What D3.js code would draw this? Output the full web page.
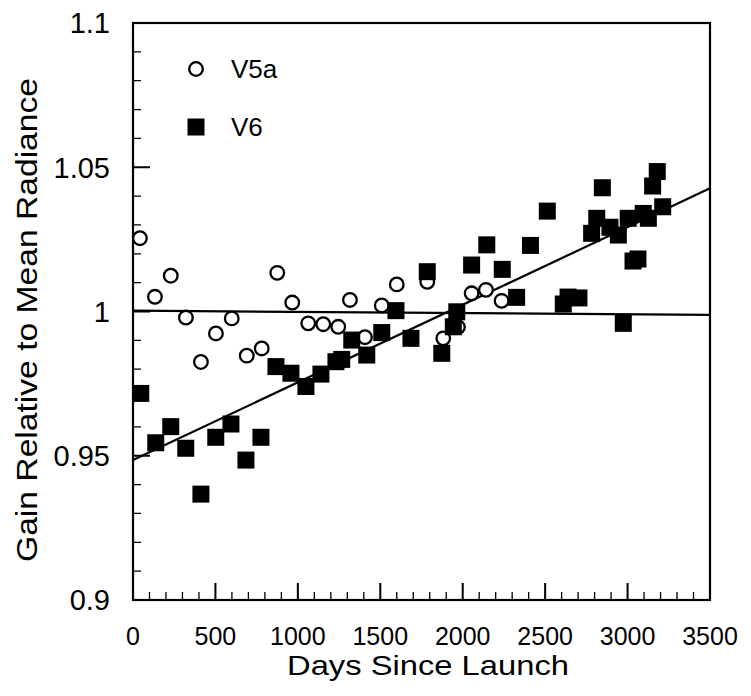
<!DOCTYPE html>
<html>
<head>
<meta charset="utf-8">
<script src="https://cdn.jsdelivr.net/npm/d3@7"></script>
<style>
  body { margin: 0; background: #fff; }
  text { font-family: "Liberation Sans", Arial, Helvetica, sans-serif; fill: #000; }
</style>
</head>
<body>
<div id="chart"></div>
<script>
// V5a (open circles)
const v5aDays = [42, 133, 229, 321, 412, 503, 599, 690, 781, 875, 966, 1063, 1154, 1245, 1316, 1407, 1509, 1600, 1785, 1882, 1971, 2054, 2141, 2236]
const v5aGain = [1.0254, 1.0051, 1.0124, 0.9979, 0.9825, 0.9924, 0.9976, 0.9847, 0.9872, 1.0134, 1.0031, 0.9959, 0.9956, 0.9947, 1.0040, 0.9911, 1.0021, 1.0094, 1.0103, 0.9907, 0.9946, 1.0063, 1.0075, 1.0037]

// V6 (filled squares)
const v6Days = [47, 138, 229, 320, 412, 502, 594, 685, 776, 867, 958, 1049, 1140, 1231, 1266, 1327, 1418, 1509, 1595, 1686,
    1785, 1873, 1943, 1964, 2054, 2146, 2240, 2327, 2411, 2513, 2610, 2639, 2705, 2782, 2813, 2847, 2893, 2944, 2974, 3004,
    3033, 3063, 3095, 3126, 3152, 3180, 3213]
const v6Gain = [0.9716, 0.9545, 0.9601, 0.9526, 0.9367, 0.9564, 0.9610, 0.9485, 0.9564, 0.9809, 0.9786, 0.9740, 0.9783, 0.9826, 0.9834, 0.9901, 0.9849, 0.9927, 1.0003, 0.9907,
    1.0138, 0.9855, 0.9947, 0.9999, 1.0161, 1.0231, 1.0146, 1.0049, 1.0229, 1.0348, 1.0026, 1.0050, 1.0047, 1.0271, 1.0323, 1.0429, 1.0292, 1.0265, 0.9959, 1.0323,
    1.0175, 1.0182, 1.0340, 1.0323, 1.0435, 1.0485, 1.0363]

// fitted trend lines, value at day 0 and day 3500
const fitDays = [0, 3500]
const v5aFit = [1.0003, 0.9988]
const v6Fit = [0.9485, 1.0427]

const xMajor = [0, 500, 1000, 1500, 2000, 2500, 3000, 3500]
const xMinor = d3.range(0, 3501, 100)
const yMajor = [0.9, 0.95, 1, 1.05, 1.1]
const yMinor = d3.range(90, 111).map(d => d / 100)

const width = 751, height = 696
const margin = {top: 23, right: 41, bottom: 96, left: 133}
const w = width - margin.left - margin.right
const h = height - margin.top - margin.bottom

let svg = d3.select("#chart")
    .append("svg")
    .attr("width", width)
    .attr("height", height)

let g = svg.append("g")
    .attr("transform", `translate(${margin.left}, ${margin.top})`)

let x = d3.scaleLinear().domain([0, 3500]).range([0, w])
let y = d3.scaleLinear().domain([0.9, 1.1]).range([h, 0])

const isMajorX = d => d % 500 === 0
const isMajorY = d => Math.round(d * 100) % 5 === 0

// frame
g.append("rect")
    .attr("width", w)
    .attr("height", h)
    .attr("fill", "none")
    .attr("stroke", "#000")
    .attr("stroke-width", 2.2)

// inward ticks: minor every 100 days / 0.01, major every 500 days / 0.05
let minorPath = d3.path()
let majorPath = d3.path()
xMinor.forEach(d => {
    let p = isMajorX(d) ? majorPath : minorPath
    p.moveTo(x(d), h)
    p.lineTo(x(d), h - (isMajorX(d) ? 17 : 8))
})
yMinor.forEach(d => {
    let p = isMajorY(d) ? majorPath : minorPath
    p.moveTo(0, y(d))
    p.lineTo(isMajorY(d) ? 17 : 8, y(d))
})
g.append("path")
    .attr("d", minorPath.toString())
    .attr("fill", "none")
    .attr("stroke", "#000")
    .attr("stroke-width", 1.3)
g.append("path")
    .attr("d", majorPath.toString())
    .attr("fill", "none")
    .attr("stroke", "#000")
    .attr("stroke-width", 2)

// tick labels
g.append("g")
    .selectAll("text")
    .data(xMajor)
    .enter()
    .append("text")
    .attr("x", d => x(d))
    .attr("y", h + 45)
    .style("text-anchor", "middle")
    .style("font-size", "25px")
    .text(d => d)

g.append("g")
    .selectAll("text")
    .data(yMajor)
    .enter()
    .append("text")
    .attr("x", -23)
    .attr("y", d => y(d))
    .attr("dy", "0.36em")
    .style("text-anchor", "end")
    .style("font-size", "29px")
    .text(d => d)

// trend lines
let line = d3.line().x(d => x(d[0])).y(d => y(d[1]))
g.append("path")
    .datum(fitDays.map((d, i) => [d, v5aFit[i]]))
    .attr("d", line)
    .attr("fill", "none").attr("stroke", "#000").attr("stroke-width", 2.2)
g.append("path")
    .datum(fitDays.map((d, i) => [d, v6Fit[i]]))
    .attr("d", line)
    .attr("fill", "none").attr("stroke", "#000").attr("stroke-width", 2.2)

// V5a points
g.append("g")
    .selectAll("circle")
    .data(v5aDays.map((d, i) => [d, v5aGain[i]]))
    .enter()
    .append("circle")
    .attr("cx", d => x(d[0]))
    .attr("cy", d => y(d[1]))
    .attr("r", 6.8)
    .attr("fill", "#fff")
    .attr("stroke", "#000")
    .attr("stroke-width", 2.3)

// V6 points
const sq = 17
g.append("g")
    .selectAll("rect")
    .data(v6Days.map((d, i) => [d, v6Gain[i]]))
    .enter()
    .append("rect")
    .attr("x", d => x(d[0]) - sq / 2)
    .attr("y", d => y(d[1]) - sq / 2)
    .attr("width", sq)
    .attr("height", sq)
    .attr("fill", "#000")

// legend
svg.append("circle")
    .attr("cx", 196).attr("cy", 69).attr("r", 6.8)
    .attr("fill", "#fff").attr("stroke", "#000").attr("stroke-width", 2.3)
svg.append("text").attr("x", 231).attr("y", 78).style("font-size", "26px").text("V5a")
svg.append("rect")
    .attr("x", 196 - sq / 2).attr("y", 127 - sq / 2).attr("width", sq).attr("height", sq)
    .attr("fill", "#000")
svg.append("text").attr("x", 231).attr("y", 136).style("font-size", "26px").text("V6")

// axis titles
svg.append("text")
    .attr("x", 428).attr("y", 675)
    .style("text-anchor", "middle")
    .style("font-size", "28px")
    .attr("textLength", 282)
    .attr("lengthAdjust", "spacingAndGlyphs")
    .text("Days Since Launch")

svg.append("text")
    .attr("transform", "translate(37, 320) rotate(-90)")
    .style("text-anchor", "middle")
    .style("font-size", "29px")
    .attr("textLength", 484)
    .attr("lengthAdjust", "spacingAndGlyphs")
    .text("Gain Relative to Mean Radiance")
</script>
</body>
</html>
